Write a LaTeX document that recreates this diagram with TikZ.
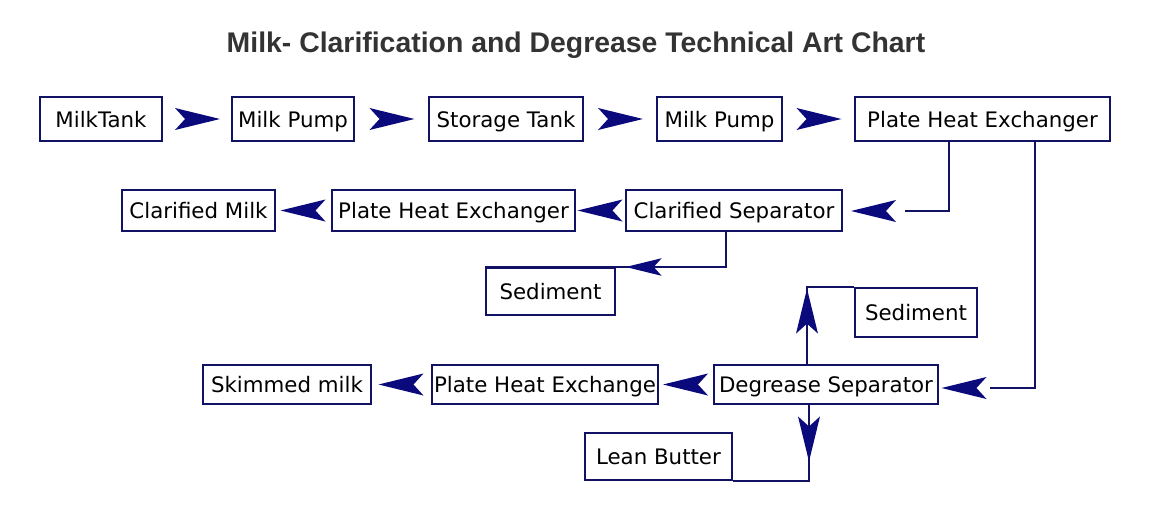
\documentclass[tikz,border=0pt]{standalone}
\usepackage{fontspec}
\setmainfont{DejaVu Sans}
\newfontfamily\titlefont{Liberation Sans}
\usetikzlibrary{calc}

\definecolor{boxblue}{RGB}{18,18,100}
\definecolor{chevblue}{RGB}{10,10,125}
\definecolor{titlegray}{RGB}{51,51,51}

\tikzset{
  unit/.style={draw=boxblue, line width=1.5pt, inner sep=0pt, text height=15pt, text depth=2.5pt, font=\fontsize{16}{18}\selectfont},
  boxsize/.style 2 args={minimum width=#1*0.75pt, minimum height=#2*0.75pt},
  link/.style={draw=boxblue, line width=1.5pt},
  chev/.pic={\fill[chevblue] (23,0) -- (-22,-11) -- (-12,0) -- (-22,11) -- cycle;}
}

\begin{document}
\begin{tikzpicture}[x=0.75pt,y=-0.75pt,allow upside down]
\useasboundingbox (0,0) rectangle (1172,511);
\node[font=\titlefont\bfseries\fontsize{21.3}{24}\selectfont, text=titlegray] (title) at (576,45) {Milk- Clarification and Degrease Technical Art Chart};

\node[unit, boxsize={122}{44}] (tank) at (101,119) {MilkTank};
\node[unit, boxsize={122}{44}] (pumpA) at (293,119) {Milk Pump};
\node[unit, boxsize={154}{44}] (store) at (506,119) {Storage Tank};
\node[unit, boxsize={125}{44}] (pumpB) at (719.5,119) {Milk Pump};
\node[unit, boxsize={255}{44}] (pheA) at (982.5,119) {Plate Heat Exchanger};

\node[unit, boxsize={153}{41}] (cmilk) at (198.5,210.5) {Clarified Milk};
\node[unit, boxsize={243}{41}] (pheB) at (453.5,210.5) {Plate Heat Exchanger};
\node[unit, boxsize={216}{41}] (csep) at (734,210.5) {Clarified Separator};
\node[unit, boxsize={129}{47}] (sedA) at (550.5,291.5) {Sediment};
\node[unit, boxsize={122}{49}] (sedB) at (916,312.5) {Sediment};

\node[unit, boxsize={168}{39}] (skim) at (287,384.5) {Skimmed milk};
\node[unit, boxsize={226}{39}] (pheC) at (545,384.5) {Plate Heat Exchange};
\node[unit, boxsize={224}{39}] (dsep) at (826,384.5) {Degrease Separator};
\node[unit, boxsize={147}{47}] (lean) at (658.5,456.5) {Lean Butter};

\coordinate (endA) at (905,211);
\coordinate (endB) at (990,388);

\path (tank) -- (pumpA) pic[midway,sloped]{chev};
\path (pumpA) -- (store) pic[midway,sloped]{chev};
\path (store) -- (pumpB) pic[midway,sloped]{chev};
\path (pumpB) -- (pheA) pic[midway,sloped]{chev};

\draw[link] ($(pheA.south west)+(95,0)$) |- (endA);
\path (endA) -- (endA -| csep.east) pic[midway,sloped]{chev};
\path (csep) -- (pheB) pic[midway,sloped]{chev};
\path (pheB) -- (cmilk) pic[midway,sloped]{chev};
\draw[link] ($(csep.south west)+(101,0)$) |- (sedA.north west) pic[pos=0.67,sloped,scale=0.8]{chev};

\draw[link] ($(pheA.south east)+(-76,0)$) |- (endB);
\path (endB) -- (endB -| dsep.east) pic[midway,sloped]{chev};
\path (dsep) -- (pheC) pic[midway,sloped]{chev};
\path (pheC) -- (skim) pic[midway,sloped]{chev};
\draw[link] ($(dsep.north west)+(94,0)$) |- (sedB.north west) pic[pos=0.34,sloped]{chev};
\draw[link] ($(dsep.south west)+(96,0)$) |- (lean.south east) pic[pos=0.22,sloped]{chev};
\end{tikzpicture}
\end{document}
